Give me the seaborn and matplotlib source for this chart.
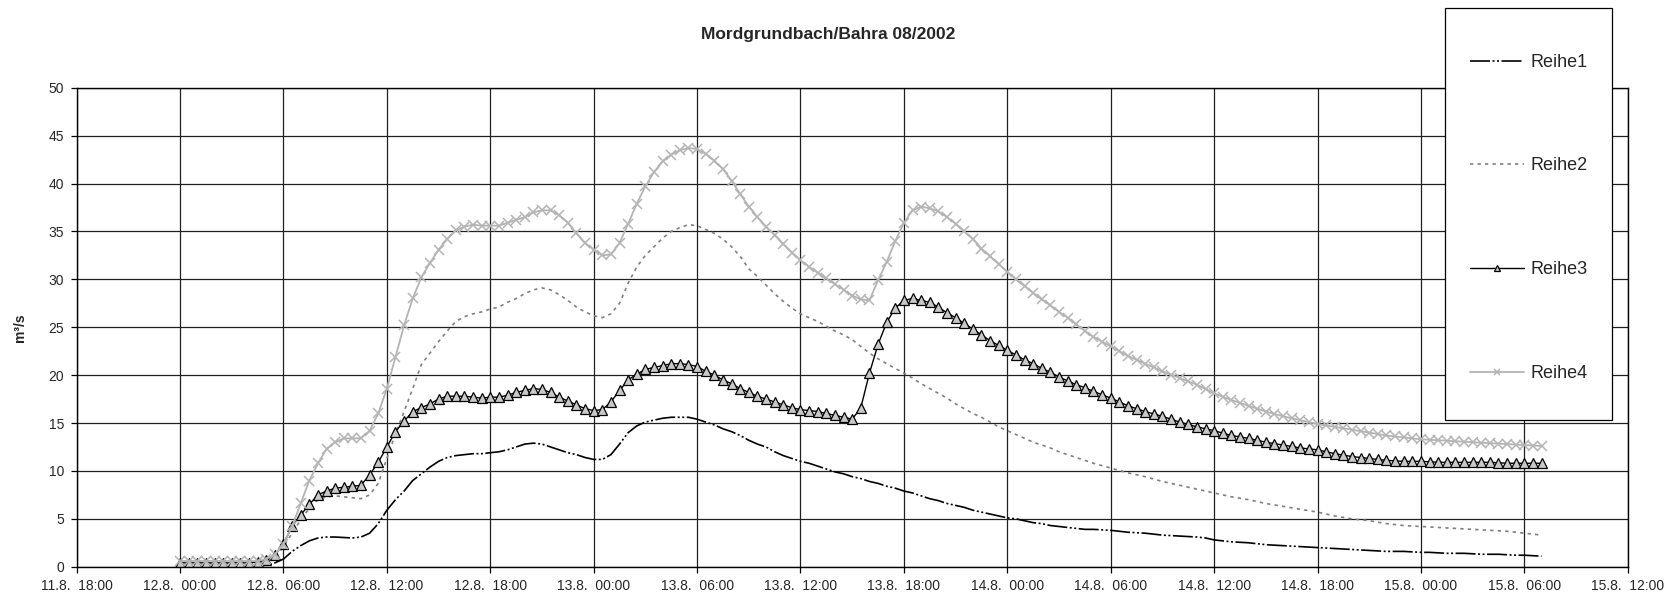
import matplotlib
matplotlib.use("Agg")
import matplotlib.pyplot as plt
from matplotlib.patches import Rectangle
import pandas as pd
import seaborn as sns

title = "Mordgrundbach/Bahra 08/2002"
y_label = "m³/s"
start = "2002-08-12 00:00"   # half-hourly values from here

# one row = 6 hours (12 half-hour values)
reihe1 = [
    0, 0, 0, 0, 0, 0, 0, 0, 0.05, 0.1, 0.15, 0.4,
    0.8, 1.6, 2.2, 2.7, 3.0, 3.1, 3.1, 3.05, 3.0, 3.1, 3.5, 4.5,
    5.9, 7.0, 7.9, 9.0, 9.7, 10.4, 11.0, 11.4, 11.6, 11.7, 11.8, 11.8,
    11.9, 12.0, 12.2, 12.5, 12.8, 12.9, 12.8, 12.5, 12.2, 11.9, 11.7, 11.4,
    11.2, 11.2, 11.7, 12.8, 14.0, 14.7, 15.1, 15.3, 15.5, 15.6, 15.6, 15.6,
    15.4, 15.1, 14.8, 14.4, 14.1, 13.7, 13.2, 12.8, 12.5, 12.0, 11.6, 11.3,
    11.0, 10.8, 10.5, 10.2, 9.9, 9.7, 9.4, 9.2, 8.9, 8.7, 8.4, 8.2,
    7.9, 7.7, 7.4, 7.1, 6.9, 6.6, 6.4, 6.2, 5.9, 5.7, 5.5, 5.3,
    5.1, 5.0, 4.8, 4.6, 4.5, 4.3, 4.2, 4.1, 4.0, 3.9, 3.9, 3.85,
    3.8, 3.7, 3.6, 3.55, 3.5, 3.4, 3.3, 3.25, 3.2, 3.15, 3.1, 3.0,
    2.8, 2.7, 2.6, 2.55, 2.5, 2.4, 2.3, 2.25, 2.2, 2.15, 2.1, 2.05,
    2.0, 1.95, 1.9, 1.85, 1.8, 1.75, 1.7, 1.65, 1.6, 1.6, 1.6, 1.55,
    1.5, 1.5, 1.45, 1.4, 1.4, 1.4, 1.35, 1.3, 1.3, 1.3, 1.25, 1.2,
    1.2, 1.15, 1.1,
]
reihe2 = [
    0.3, 0.3, 0.3, 0.3, 0.3, 0.3, 0.3, 0.3, 0.3, 0.35, 0.5, 1.0,
    2.1, 3.5, 4.9, 6.1, 7.0, 7.3, 7.4, 7.3, 7.2, 7.1, 7.5, 8.7,
    11.3, 13.9, 16.2, 18.6, 21.1, 22.3, 23.5, 24.6, 25.6, 26.1, 26.4, 26.6,
    26.9, 27.1, 27.6, 28.0, 28.5, 28.9, 29.1, 28.9, 28.4, 27.8, 27.1, 26.6,
    26.2, 26.0, 26.4, 27.5, 29.6, 31.3, 32.5, 33.4, 34.3, 35.0, 35.4, 35.7,
    35.6, 35.2, 34.8, 34.2, 33.4, 32.4, 31.1, 30.3, 29.4, 28.5, 27.7, 27.0,
    26.4, 26.0, 25.6, 25.1, 24.6, 24.2, 23.7, 23.0, 22.3, 21.7, 21.2, 20.7,
    20.2, 19.7, 19.1, 18.6, 18.1, 17.6, 17.0, 16.5, 16.0, 15.6, 15.1, 14.6,
    14.2, 13.8, 13.4, 13.0, 12.7, 12.4, 12.0, 11.7, 11.4, 11.1, 10.8, 10.55,
    10.3, 10.05, 9.8, 9.6, 9.4, 9.15, 8.9, 8.7, 8.5, 8.3, 8.1, 7.9,
    7.7, 7.5, 7.3, 7.15, 7.0, 6.8, 6.6, 6.45, 6.3, 6.15, 6.0, 5.85,
    5.7, 5.5, 5.3, 5.15, 5.0, 4.9, 4.8, 4.65, 4.5, 4.4, 4.3, 4.25,
    4.2, 4.15, 4.1, 4.05, 4.0, 3.95, 3.9, 3.85, 3.8, 3.75, 3.7, 3.6,
    3.5, 3.4, 3.3,
]
reihe3 = [
    0.4, 0.4, 0.4, 0.4, 0.4, 0.4, 0.4, 0.4, 0.4, 0.5, 0.7, 1.2,
    2.4, 4.2, 5.4, 6.5, 7.5, 7.9, 8.2, 8.3, 8.4, 8.5, 9.6, 10.9,
    12.5, 14.1, 15.2, 16.2, 16.6, 17.0, 17.5, 17.8, 17.8, 17.8, 17.7, 17.6,
    17.7, 17.7, 17.9, 18.2, 18.4, 18.6, 18.5, 18.2, 17.7, 17.3, 16.9, 16.5,
    16.3, 16.4, 17.2, 18.4, 19.5, 20.1, 20.6, 20.8, 21.0, 21.2, 21.2, 21.1,
    20.9, 20.4, 20.0, 19.5, 19.1, 18.6, 18.2, 17.8, 17.5, 17.2, 16.9, 16.6,
    16.4, 16.3, 16.2, 16.0, 15.8, 15.6, 15.4, 16.6, 20.2, 23.2, 25.5, 27.0,
    27.8, 28.0, 27.8, 27.6, 27.1, 26.5, 26.0, 25.4, 24.8, 24.2, 23.6, 23.1,
    22.6, 22.1, 21.6, 21.2, 20.7, 20.3, 19.8, 19.4, 19.0, 18.7, 18.3, 17.95,
    17.6, 17.2, 16.8, 16.5, 16.2, 15.95, 15.7, 15.4, 15.1, 14.85, 14.6, 14.4,
    14.2, 13.95, 13.7, 13.55, 13.4, 13.2, 13.0, 12.85, 12.7, 12.55, 12.4, 12.3,
    12.2, 12.0, 11.8, 11.65, 11.5, 11.4, 11.3, 11.2, 11.1, 11.05, 11.0, 11.0,
    11.0, 10.95, 10.9, 10.9, 10.9, 10.9, 10.9, 10.9, 10.9, 10.85, 10.8, 10.8,
    10.8, 10.8, 10.8,
]
reihe4 = [
    0.6, 0.6, 0.6, 0.6, 0.6, 0.6, 0.6, 0.6, 0.6, 0.6, 0.8, 1.3,
    2.4, 4.2, 6.6, 9.0, 10.8, 12.3, 13.0, 13.4, 13.4, 13.4, 14.2, 16.0,
    18.6, 21.9, 25.2, 28.0, 30.2, 31.7, 33.1, 34.2, 35.1, 35.5, 35.7, 35.6,
    35.6, 35.6, 35.9, 36.2, 36.5, 37.0, 37.2, 37.2, 36.7, 35.9, 34.8, 33.8,
    33.1, 32.5, 32.6, 33.8, 35.8, 37.9, 39.7, 41.2, 42.3, 43.0, 43.5, 43.7,
    43.6, 43.1, 42.4, 41.5, 40.3, 38.9, 37.6, 36.5, 35.5, 34.6, 33.7, 32.8,
    32.0, 31.3, 30.7, 30.1, 29.5, 28.9, 28.3, 27.9, 27.8, 29.9, 31.8, 34.0,
    35.9, 37.2, 37.6, 37.4, 37.1, 36.5, 35.8, 35.0, 34.2, 33.2, 32.4, 31.6,
    30.8, 30.0, 29.3, 28.6, 27.9, 27.3, 26.6, 26.0, 25.3, 24.6, 24.0, 23.5,
    23.0, 22.5, 22.0, 21.6, 21.2, 20.8, 20.4, 20.05, 19.7, 19.35, 19.0, 18.55,
    18.1, 17.75, 17.4, 17.1, 16.8, 16.5, 16.2, 15.95, 15.7, 15.5, 15.3, 15.1,
    14.9, 14.75, 14.6, 14.45, 14.3, 14.15, 14.0, 13.85, 13.7, 13.6, 13.5, 13.4,
    13.3, 13.25, 13.2, 13.15, 13.1, 13.05, 13.0, 12.95, 12.9, 12.85, 12.8, 12.75,
    12.7, 12.65, 12.6,
]

tick_labels = [
    "11.8.  18:00", "12.8.  00:00", "12.8.  06:00", "12.8.  12:00",
    "12.8.  18:00", "13.8.  00:00", "13.8.  06:00", "13.8.  12:00",
    "13.8.  18:00", "14.8.  00:00", "14.8.  06:00", "14.8.  12:00",
    "14.8.  18:00", "15.8.  00:00", "15.8.  06:00", "15.8.  12:00",
]
y_ticks = [0, 5, 10, 15, 20, 25, 30, 35, 40, 45, 50]

sns.set_style("ticks")
plt.rcParams["font.family"] = ["Liberation Sans", "DejaVu Sans"]

times = pd.date_range(start, periods=len(reihe1), freq="30min")
tick_pos = pd.date_range("2002-08-11 18:00", "2002-08-15 12:00", freq="6h")

fig, ax = plt.subplots(figsize=(16.7, 5.98), dpi=100)
fig.subplots_adjust(left=0.0459, right=0.9747, bottom=0.0523, top=0.8533)

sns.lineplot(x=times, y=reihe1, ax=ax, color="black", lw=1.2,
             linestyle=(0, (12, 1.5, 1.2, 1.5, 1.2, 1.5)), label="Reihe1")
sns.lineplot(x=times, y=reihe2, ax=ax, color="#808080", lw=1.2,
             linestyle=(0, (2, 2.5)), label="Reihe2")
sns.lineplot(x=times, y=reihe3, ax=ax, color="black", lw=1,
             marker="^", markersize=6.5, markerfacecolor="#c8c8c8",
             markeredgecolor="black", markeredgewidth=0.9, label="Reihe3")
sns.lineplot(x=times, y=reihe4, ax=ax, color="#b4b4b4", lw=1.3,
             marker="x", markersize=6.5, markeredgecolor="#b4b4b4",
             markeredgewidth=1.1, label="Reihe4")

ax.set_xlim(tick_pos[0], tick_pos[-1])
ax.set_xticks(tick_pos)
ax.set_xticklabels(tick_labels)
ax.set_ylim(0, 50)
ax.set_yticks(y_ticks)
ax.grid(True, color="#202020", lw=0.9)
for s in ax.spines.values():
    s.set_color("black")
    s.set_linewidth(1)
ax.tick_params(axis="both", direction="out", length=4, width=0.9,
               labelsize=10, color="black", pad=5)
ax.set_xlabel("")
ax.set_ylabel(y_label, fontsize=10, fontweight="bold")
ax.yaxis.set_label_coords(-0.032, 0.5)

fig.text(0.496, 0.943, title, ha="center", va="center",
         fontsize=12.5, fontweight="bold")

# legend box drawn separately so the entries can be spread out freely
fig.patches.append(Rectangle((0.8653, 0.2983), 0.1002, 0.6888,
                             transform=fig.transFigure, facecolor="white",
                             edgecolor="black", lw=0.9, zorder=3))
handles, labels = ax.get_legend_handles_labels()
if ax.get_legend():
    ax.get_legend().remove()
leg = fig.legend(handles, labels, loc="upper left",
                 bbox_to_anchor=(0.8802, 0.910), borderaxespad=0,
                 borderpad=0, fontsize=13, frameon=False,
                 handlelength=3.0, handletextpad=0.35, labelspacing=4.8,
                 markerscale=0.6)
leg.set_zorder(4)

fig.savefig("out.png", dpi=100)
